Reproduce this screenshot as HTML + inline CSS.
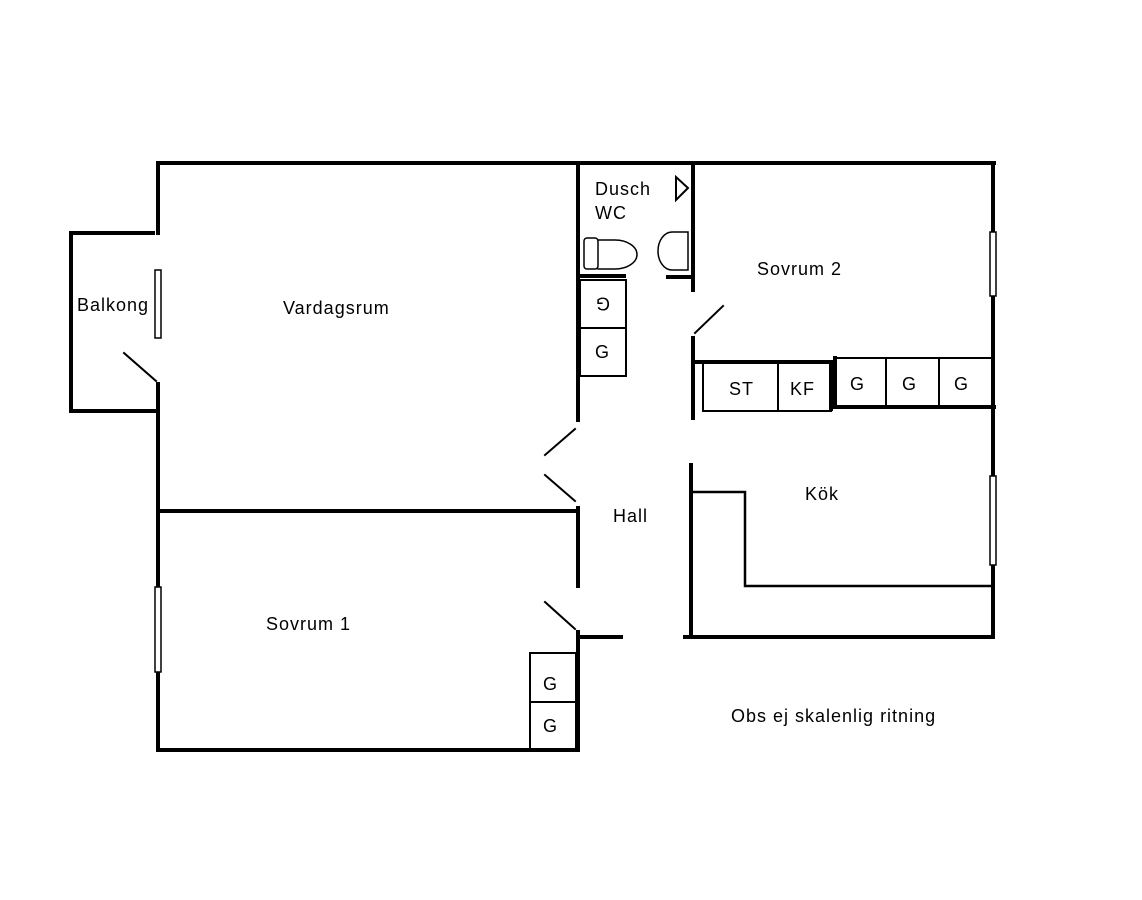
<!DOCTYPE html>
<html><head><meta charset="utf-8"><style>
html,body{margin:0;padding:0;background:#fff}
svg{display:block}
text{font-family:"Liberation Sans","DejaVu Sans",sans-serif;font-size:18px;letter-spacing:1px;fill:#000}
</style></head><body>
<svg width="1142" height="900" viewBox="0 0 1142 900" xmlns="http://www.w3.org/2000/svg">
<g stroke="#000" fill="none" stroke-linecap="square">
<line x1="158" y1="163" x2="994" y2="163" stroke-width="4"/>
<line x1="158" y1="163" x2="158" y2="233" stroke-width="4"/>
<line x1="158" y1="384" x2="158" y2="750" stroke-width="4"/>
<rect x="155" y="270" width="6" height="68" fill="#fff" stroke-width="1.5"/>
<rect x="155" y="587" width="6" height="85" fill="#fff" stroke-width="1.5"/>
<polyline points="153,233 71,233 71,411 158,411" stroke-width="4"/>
<line x1="124" y1="353" x2="156" y2="381" stroke-width="2"/>
<line x1="158" y1="750" x2="578" y2="750" stroke-width="4"/>
<line x1="158" y1="511" x2="578" y2="511" stroke-width="4"/>
<line x1="578" y1="163" x2="578" y2="420" stroke-width="4"/>
<line x1="578" y1="508" x2="578" y2="586" stroke-width="4"/>
<line x1="578" y1="632" x2="578" y2="750" stroke-width="4"/>
<line x1="578" y1="637" x2="621" y2="637" stroke-width="4"/>
<line x1="545" y1="455" x2="575" y2="429" stroke-width="2"/>
<line x1="545" y1="475" x2="575" y2="501" stroke-width="2"/>
<line x1="545" y1="602" x2="575" y2="629" stroke-width="2"/>
<rect x="530" y="653" width="46" height="49" stroke-width="2"/>
<rect x="530" y="702" width="46" height="48" stroke-width="2"/>
<line x1="693" y1="163" x2="693" y2="290" stroke-width="4"/>
<line x1="578" y1="276" x2="624" y2="276" stroke-width="4"/>
<line x1="668" y1="277" x2="693" y2="277" stroke-width="4"/>
<polygon points="676,177 676,200 688,188" stroke-width="2"/>
<rect x="584" y="238" width="14" height="31" rx="3" stroke-width="1.5"/>
<path d="M598,240 L615,240 A22,14.5 0 0 1 615,269 L598,269" stroke-width="1.5"/>
<path d="M688,232 L672,232 A14,19 0 0 0 672,270 L688,270 Z" stroke-width="1.5"/>
<rect x="580" y="280" width="46" height="48" stroke-width="2"/>
<rect x="580" y="328" width="46" height="48" stroke-width="2"/>
<line x1="695" y1="333" x2="723" y2="306" stroke-width="2"/>
<line x1="693" y1="338" x2="693" y2="418" stroke-width="4"/>
<line x1="693" y1="362" x2="831" y2="362" stroke-width="4"/>
<rect x="703" y="362" width="75" height="49" stroke-width="2"/>
<rect x="778" y="362" width="53" height="49" stroke-width="2"/>
<line x1="831" y1="362" x2="831" y2="409" stroke-width="4"/>
<line x1="835" y1="358" x2="991" y2="358" stroke-width="2"/>
<line x1="835" y1="358" x2="835" y2="407" stroke-width="4"/>
<line x1="886" y1="358" x2="886" y2="407" stroke-width="2"/>
<line x1="939" y1="358" x2="939" y2="407" stroke-width="2"/>
<line x1="835" y1="407" x2="994" y2="407" stroke-width="4"/>
<line x1="993" y1="163" x2="993" y2="232" stroke-width="4"/>
<line x1="993" y1="296" x2="993" y2="476" stroke-width="4"/>
<line x1="993" y1="565" x2="993" y2="637" stroke-width="4"/>
<rect x="990" y="232" width="6" height="64" fill="#fff" stroke-width="1.5"/>
<rect x="990" y="476" width="6" height="89" fill="#fff" stroke-width="1.5"/>
<line x1="691" y1="465" x2="691" y2="637" stroke-width="4"/>
<line x1="685" y1="637" x2="993" y2="637" stroke-width="4"/>
<polyline points="693,492 745,492 745,586 991,586" stroke-width="2.5"/>
</g>
<text x="77" y="311">Balkong</text>
<text x="283" y="314">Vardagsrum</text>
<text x="266" y="630">Sovrum 1</text>
<text x="595" y="195">Dusch</text>
<text x="595" y="219">WC</text>
<text x="757" y="275">Sovrum 2</text>
<text x="613" y="522">Hall</text>
<text x="805" y="500">Kök</text>
<text x="729" y="395">ST</text>
<text x="790" y="395">KF</text>
<text x="850" y="390">G</text>
<text x="902" y="390">G</text>
<text x="954" y="390">G</text>
<text x="603" y="302" transform="rotate(180 603 302)" text-anchor="middle" dominant-baseline="middle" style="letter-spacing:0">G</text>
<text x="595" y="358">G</text>
<text x="543" y="690">G</text>
<text x="543" y="732">G</text>
<text x="731" y="722">Obs ej skalenlig ritning</text>
</svg>
</body></html>
